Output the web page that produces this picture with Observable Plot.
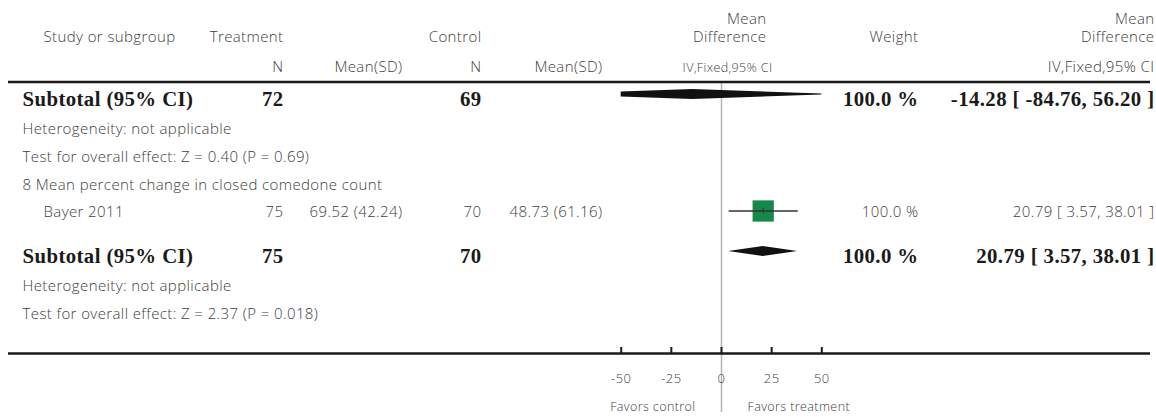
<!DOCTYPE html>
<html><head><meta charset="utf-8">
<script src="https://cdn.jsdelivr.net/npm/d3@7"></script>
<script src="https://cdn.jsdelivr.net/npm/@observablehq/plot@0.6"></script>
<style>body{margin:0;background:#fff}</style>
</head><body><div id="chart"></div>
<script>
// ---------- data ----------
const subgroupTitle = "8 Mean percent change in closed comedone count";
const studyNames = ["Bayer 2011"];
const studyTreatN = [75];
const studyTreatMeanSD = ["69.52 (42.24)"];
const studyControlN = [70];
const studyControlMeanSD = ["48.73 (61.16)"];
const studyMD = [20.79];
const studyLo = [3.57];
const studyHi = [38.01];
const studyWeight = [100.0];

const subtotalTreatN = [72, 75];
const subtotalControlN = [69, 70];
const subtotalMD = [-14.28, 20.79];
const subtotalLo = [-84.76, 3.57];
const subtotalHi = [56.20, 38.01];
const subtotalWeight = [100.0, 100.0];
const heterogeneity = ["not applicable", "not applicable"];
const zValues = ["0.40", "2.37"];
const pValues = ["0.69", "0.018"];

const xTicks = [-50, -25, 0, 25, 50];
const xDomain = [-50, 50];
const favorsLabels = ["Favors control", "Favors treatment"];

// ---------- layout ----------
const W = 1156, H = 417;
const col = {left: 22, indent: 43, treatN: 283, treatMean: 402, ctrlN: 481, ctrlMean: 602,
             md: 766, mdSub: 772, weight: 918, ci: 1154};
const xRange = [620.7, 821.3];
const rowY = {hdrTop: 19, hdr: 37, hdrSub: 67, topRule: 81.5,
              sub: [94, 251], het: [129, 285.5], test: [157, 313.5],
              group: 185, study: [210.5],
              axis: 353, tickTop: 347, tickLabel: 378, favors: 406,
              zeroTop: 82, zeroBottom: 412};
const boldDy = 5;
const diamondHalf = 5;

const regFont = {fontFamily: "'Open Sans', Lato, sans-serif", fontSize: 15, fontWeight: 300, fill: "#404040"};
const boldFont = {fontFamily: "'Liberation Serif', 'DejaVu Serif', serif", fontSize: 20.8, fontWeight: "bold", fill: "#1a1a1a"};

const fmt2 = v => v.toFixed(2);
const ciText = (m, l, h) => `${fmt2(m)} [ ${fmt2(l)}, ${fmt2(h)} ]`;
const wText = w => `${w.toFixed(1)} %`;

// ---------- tables built from data ----------
const subtotals = subtotalMD.map((m, i) => ({
  y: rowY.sub[i], ty: rowY.sub[i] + boldDy, label: "Subtotal (95% CI)",
  tN: subtotalTreatN[i], cN: subtotalControlN[i], md: m, lo: subtotalLo[i], hi: subtotalHi[i],
  weight: wText(subtotalWeight[i]), ci: ciText(m, subtotalLo[i], subtotalHi[i])
}));
const studies = studyNames.map((s, i) => ({
  y: rowY.study[i], ty: rowY.study[i] + 1.5, label: s,
  tN: studyTreatN[i], tM: studyTreatMeanSD[i], cN: studyControlN[i], cM: studyControlMeanSD[i],
  md: studyMD[i], lo: studyLo[i], hi: studyHi[i],
  weight: wText(studyWeight[i]), ci: ciText(studyMD[i], studyLo[i], studyHi[i])
}));
const infoRows = [
  ...heterogeneity.map((h, i) => ({y: rowY.het[i], text: `Heterogeneity: ${h}`})),
  ...zValues.map((z, i) => ({y: rowY.test[i], text: `Test for overall effect: Z = ${z} (P = ${pValues[i]})`})),
  {y: rowY.group, text: subgroupTitle}
];

// diamond polygon clipped to the axis domain
function diamond(d) {
  const [d0, d1] = xDomain;
  const hAt = x => x <= d.md ? diamondHalf * (x - d.lo) / (d.md - d.lo) : diamondHalf * (d.hi - x) / (d.hi - d.md);
  const xs = [Math.max(d.lo, d0), Math.min(Math.max(d.md, d0), d1), Math.min(d.hi, d1)];
  return xs.map(x => ({x, y1: d.y - hAt(x), y2: d.y + hAt(x)}));
}

const header = [
  {x: col.md, y: rowY.hdrTop, t: "Mean", a: "end"},
  {x: col.ci, y: rowY.hdrTop, t: "Mean", a: "end"},
  {x: col.indent, y: rowY.hdr, t: "Study or subgroup", a: "start"},
  {x: col.treatN, y: rowY.hdr, t: "Treatment", a: "end"},
  {x: col.ctrlN, y: rowY.hdr, t: "Control", a: "end"},
  {x: col.md, y: rowY.hdr, t: "Difference", a: "end"},
  {x: col.weight, y: rowY.hdr, t: "Weight", a: "end"},
  {x: col.ci, y: rowY.hdr, t: "Difference", a: "end"},
  {x: col.treatN, y: rowY.hdrSub, t: "N", a: "end"},
  {x: col.treatMean, y: rowY.hdrSub, t: "Mean(SD)", a: "end"},
  {x: col.ctrlN, y: rowY.hdrSub, t: "N", a: "end"},
  {x: col.ctrlMean, y: rowY.hdrSub, t: "Mean(SD)", a: "end"},
  {x: col.mdSub, y: rowY.hdrSub, t: "IV,Fixed,95% CI", a: "end", fs: 12.5},
  {x: col.ci, y: rowY.hdrSub, t: "IV,Fixed,95% CI", a: "end"}
];

// column text helper: anchored to the left frame edge, shifted by the column offset
const colText = (data, dx, text, anchor, font, y = "ty") =>
  Plot.text(data, {frameAnchor: "left", dx, y, text, textAnchor: anchor, ...font});

const marks = [
  // zero line
  Plot.ruleX([0], {x: d => d, y1: rowY.zeroTop, y2: rowY.zeroBottom, stroke: "#b5b5b5", strokeWidth: 1.5}),
  // header (one mark per entry since each has its own column offset)
  ...header.map(h => Plot.text([h], {frameAnchor: "left", dx: h.x, y: "y", text: "t", textAnchor: h.a, ...regFont,
                                     fontSize: h.fs || regFont.fontSize})),
  // horizontal rules
  Plot.ruleY([rowY.topRule, rowY.axis], {y: d => d, insetLeft: 8, insetRight: 6, stroke: "#1a1a1a", strokeWidth: 2.6}),
  // axis ticks & labels
  Plot.ruleX(xTicks, {x: d => d, y1: rowY.tickTop, y2: rowY.axis, stroke: "#1a1a1a", strokeWidth: 2}),
  Plot.text(xTicks, {x: d => d, y: rowY.tickLabel, text: d => String(d), ...regFont, fontSize: 13}),
  Plot.text([favorsLabels[0]], {x: 0, dx: -26, y: rowY.favors, text: d => d, textAnchor: "end", ...regFont, fontSize: 12.5}),
  Plot.text([favorsLabels[1]], {x: 0, dx: 26, y: rowY.favors, text: d => d, textAnchor: "start", ...regFont, fontSize: 12.5}),
  // info rows
  Plot.text(infoRows, {frameAnchor: "left", dx: col.left, y: "y", text: "text", textAnchor: "start", ...regFont}),
  // subtotal rows
  colText(subtotals, col.left, "label", "start", boldFont),
  colText(subtotals, col.treatN, "tN", "end", boldFont),
  colText(subtotals, col.ctrlN, "cN", "end", boldFont),
  colText(subtotals, col.weight, "weight", "end", boldFont),
  colText(subtotals, col.ci, "ci", "end", boldFont),
  ...subtotals.map(d => Plot.areaY(diamond(d), {x: "x", y1: "y1", y2: "y2", fill: "#111"})),
  // study rows
  colText(studies, col.indent, "label", "start", regFont),
  colText(studies, col.treatN, "tN", "end", regFont),
  colText(studies, col.treatMean, "tM", "end", regFont),
  colText(studies, col.ctrlN, "cN", "end", regFont),
  colText(studies, col.ctrlMean, "cM", "end", regFont),
  colText(studies, col.weight, "weight", "end", regFont),
  colText(studies, col.ci, "ci", "end", regFont),
  Plot.dot(studies, {x: "md", y: "y", symbol: "square", r: 12, fill: "#16894a", stroke: "none"}),
  Plot.link(studies, {x1: "lo", x2: "hi", y1: "y", y2: "y", stroke: "#333", strokeWidth: 1.3}),
  Plot.ruleX(studies, {x: "md", y1: d => d.y - 3, y2: d => d.y + 3, stroke: "#333", strokeWidth: 1})
];

const chart = Plot.plot({
  width: W, height: H, margin: 0,
  x: {domain: xDomain, range: xRange, axis: null},
  y: {type: "identity", axis: null},
  style: {background: "#fff", overflow: "visible", letterSpacing: "0.4px"},
  marks
});
document.getElementById("chart").appendChild(chart);
</script>
</body></html>
